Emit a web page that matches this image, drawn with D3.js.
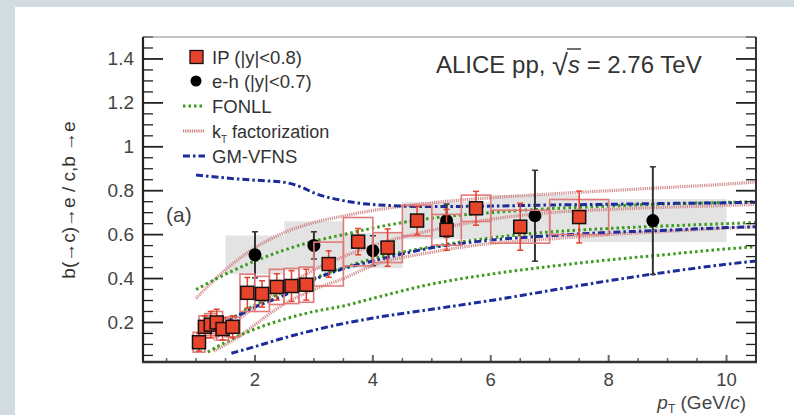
<!DOCTYPE html>
<html><head><meta charset="utf-8">
<script src="https://cdn.jsdelivr.net/npm/d3@7"></script>
<style>body{margin:0;padding:0;background:#fff}svg{display:block}text{font-family:"Liberation Sans",Arial,sans-serif}</style>
</head><body>
<svg id="c" width="794" height="415"></svg>
<script>
// ---------- data ----------
const xTicks = [2, 4, 6, 8, 10];
const yTicks = [0.2, 0.4, 0.6, 0.8, 1, 1.2, 1.4];
const yTickLabels = ["0.2", "0.4", "0.6", "0.8", "1", "1.2", "1.4"];

// IP method (|y|<0.8)
const ipX    = [1.05, 1.15, 1.25, 1.35, 1.45, 1.62, 1.87, 2.12, 2.37, 2.62, 2.87, 3.25, 3.75, 4.25, 4.75, 5.25, 5.75, 6.5, 7.5];
const ipY    = [0.11, 0.18, 0.19, 0.20, 0.17, 0.18, 0.335, 0.33, 0.362, 0.366, 0.372, 0.466, 0.568, 0.541, 0.664, 0.622, 0.72, 0.636, 0.68];
const ipStat = [0.04, 0.05, 0.06, 0.06, 0.05, 0.05, 0.07, 0.06, 0.06, 0.07, 0.07, 0.06, 0.06, 0.085, 0.064, 0.093, 0.077, 0.107, 0.118];
const ipSys  = [0.045, 0.05, 0.05, 0.05, 0.05, 0.045, 0.085, 0.08, 0.08, 0.08, 0.08, 0.10, 0.11, 0.068, 0.07, 0.07, 0.06, 0.075, 0.08];
const ipHalfW = [0.1, 0.1, 0.1, 0.1, 0.1, 0.125, 0.125, 0.125, 0.125, 0.125, 0.125, 0.25, 0.25, 0.25, 0.25, 0.25, 0.25, 0.5, 0.5];

// e-h correlation (|y|<0.7)
const ehX     = [2, 3, 4, 5.25, 6.75, 8.75];
const ehY     = [0.508, 0.551, 0.527, 0.664, 0.686, 0.664];
const ehStat  = [0.105, 0.062, 0.068, 0.075, 0.207, 0.245];
const ehSys   = [0.088, 0.11, 0.08, 0.085, 0.095, 0.098];
const ehHalfW = [0.5, 0.5, 0.5, 0.75, 0.75, 1.25];

// FONLL
const fonllUpX  = [1.0, 1.5, 2, 2.5, 3, 3.5, 4, 5, 6, 7, 8, 9, 10, 10.5];
const fonllUpY  = [0.35, 0.42, 0.48, 0.53, 0.57, 0.60, 0.63, 0.675, 0.70, 0.718, 0.73, 0.74, 0.747, 0.75];
const fonllCenX = [1.5, 2, 2.5, 3, 3.5, 4, 5, 6, 7, 8, 9, 10, 10.5];
const fonllCenY = [0.2, 0.28, 0.34, 0.40, 0.45, 0.49, 0.545, 0.585, 0.612, 0.628, 0.64, 0.65, 0.655];
const fonllLoX  = [1.2, 1.5, 2, 2.5, 3, 3.5, 4, 5, 6, 7, 8, 9, 10, 10.5];
const fonllLoY  = [0.065, 0.11, 0.17, 0.215, 0.25, 0.275, 0.31, 0.375, 0.42, 0.455, 0.485, 0.51, 0.535, 0.545];

// kT factorization
const ktUpX  = [1.0, 1.5, 2, 2.5, 3, 3.5, 4, 5, 6, 7, 8, 9, 10, 10.5];
const ktUpY  = [0.31, 0.44, 0.54, 0.61, 0.655, 0.685, 0.71, 0.745, 0.768, 0.785, 0.80, 0.815, 0.83, 0.84];
const ktCenX = [1.3, 1.75, 2, 2.5, 3, 3.5, 4, 5, 6, 7, 8, 9, 10, 10.5];
const ktCenY = [0.12, 0.22, 0.27, 0.36, 0.44, 0.50, 0.55, 0.62, 0.67, 0.70, 0.715, 0.725, 0.733, 0.738];
const ktLoX  = [1.3, 1.75, 2, 2.5, 3, 3.5, 4, 5, 6, 7, 8, 9, 10, 10.5];
const ktLoY  = [0.07, 0.14, 0.19, 0.285, 0.35, 0.40, 0.46, 0.52, 0.56, 0.58, 0.60, 0.615, 0.63, 0.636];

// GM-VFNS
const gmUpX  = [1.0, 1.5, 2, 2.5, 2.8, 3, 3.5, 4, 5, 6, 7, 8, 9, 10, 10.5];
const gmUpY  = [0.872, 0.858, 0.848, 0.838, 0.815, 0.79, 0.755, 0.737, 0.728, 0.73, 0.735, 0.738, 0.742, 0.745, 0.748];
const gmCenX = [1.5, 2, 2.5, 3, 3.5, 4, 5, 6, 7, 8, 9, 10, 10.5];
const gmCenY = [0.2, 0.27, 0.325, 0.395, 0.445, 0.48, 0.54, 0.575, 0.595, 0.61, 0.62, 0.632, 0.636];
const gmLoX  = [1.6, 2, 2.5, 3, 3.5, 4, 5, 6, 7, 8, 9, 10, 10.5];
const gmLoY  = [0.06, 0.09, 0.13, 0.165, 0.195, 0.22, 0.26, 0.30, 0.345, 0.39, 0.43, 0.465, 0.48];

// ---------- drawing ----------
const svg = d3.select("#c");
svg.append("rect").attr("width", 794).attr("height", 415).attr("fill", "#d0dce0");
svg.append("rect").attr("x", 15).attr("y", 7).attr("width", 779).attr("height", 408).attr("fill", "#fff");

const L = 143, R = 756, T = 37, B = 362;
const x = d3.scaleLinear().domain([0.1, 10.5]).range([L, R]);
const y = d3.scaleLinear().domain([0.02, 1.5]).range([B, T]);

svg.append("defs").append("clipPath").attr("id", "clip")
  .append("rect").attr("x", L).attr("y", T).attr("width", R - L).attr("height", B - T);
const plot = svg.append("g").attr("clip-path", "url(#clip)");

// e-h systematic grey boxes
plot.selectAll("rect.ehsys").data(ehX).join("rect")
  .attr("x", (d, i) => x(d - ehHalfW[i]))
  .attr("width", (d, i) => x(d + ehHalfW[i]) - x(d - ehHalfW[i]))
  .attr("y", (d, i) => y(ehY[i] + ehSys[i]))
  .attr("height", (d, i) => y(ehY[i] - ehSys[i]) - y(ehY[i] + ehSys[i]))
  .attr("fill", "#e3e3e3");

// theory curves
const line = d3.line().x(d => x(d[0])).y(d => y(d[1])).curve(d3.curveMonotoneX);
const zip = (a, b) => a.map((v, i) => [v, b[i]]);
const styles = {
  fonll: {stroke: "#3a9a1c", width: 3, dash: "2.5,3"},
  kt:    {stroke: "#cc7a7a", width: 3.2, dash: "1.2,1"},
  gm:    {stroke: "#1c2c9c", width: 3, dash: "7,3,2.5,3"}
};
const curves = [
  ["kt", ktUpX, ktUpY], ["kt", ktCenX, ktCenY], ["kt", ktLoX, ktLoY],
  ["fonll", fonllUpX, fonllUpY], ["fonll", fonllCenX, fonllCenY], ["fonll", fonllLoX, fonllLoY],
  ["gm", gmUpX, gmUpY], ["gm", gmCenX, gmCenY], ["gm", gmLoX, gmLoY]
];
curves.forEach(([k, xs, ys]) => {
  const s = styles[k];
  plot.append("path").attr("d", line(zip(xs, ys))).attr("fill", "none")
    .attr("stroke", s.stroke).attr("stroke-width", s.width).attr("stroke-dasharray", s.dash)
    .attr("opacity", k === "kt" ? 0.85 : 1);
});

// e-h stat error bars and markers
const gEh = plot.append("g");
ehX.forEach((d, i) => {
  const cx = x(d);
  gEh.append("line").attr("x1", cx).attr("x2", cx).attr("y1", y(ehY[i] + ehStat[i])).attr("y2", y(ehY[i] - ehStat[i]))
    .attr("stroke", "#333").attr("stroke-width", 2);
  [ehY[i] + ehStat[i], ehY[i] - ehStat[i]].forEach(v => {
    gEh.append("line").attr("x1", cx - 3).attr("x2", cx + 3).attr("y1", y(v)).attr("y2", y(v))
      .attr("stroke", "#333").attr("stroke-width", 1.5);
  });
});
gEh.selectAll("circle").data(ehX).join("circle")
  .attr("cx", d => x(d)).attr("cy", (d, i) => y(ehY[i])).attr("r", 6.5).attr("fill", "#000");

// IP systematic boxes
plot.selectAll("rect.ipsys").data(ipX).join("rect")
  .attr("x", (d, i) => x(d - ipHalfW[i]))
  .attr("width", (d, i) => x(d + ipHalfW[i]) - x(d - ipHalfW[i]))
  .attr("y", (d, i) => y(ipY[i] + ipSys[i]))
  .attr("height", (d, i) => y(ipY[i] - ipSys[i]) - y(ipY[i] + ipSys[i]))
  .attr("fill", "none").attr("stroke", "#e07a7a").attr("stroke-width", 1.6);

// IP stat error bars
const gIp = plot.append("g");
ipX.forEach((d, i) => {
  const cx = x(d);
  gIp.append("line").attr("x1", cx).attr("x2", cx).attr("y1", y(ipY[i] + ipStat[i])).attr("y2", y(ipY[i] - ipStat[i]))
    .attr("stroke", "#e8402a").attr("stroke-width", 1.5);
  [ipY[i] + ipStat[i], ipY[i] - ipStat[i]].forEach(v => {
    gIp.append("line").attr("x1", cx - 3).attr("x2", cx + 3).attr("y1", y(v)).attr("y2", y(v))
      .attr("stroke", "#e8402a").attr("stroke-width", 1.5);
  });
});
gIp.selectAll("rect").data(ipX).join("rect")
  .attr("x", d => x(d) - 6.5).attr("y", (d, i) => y(ipY[i]) - 6.5)
  .attr("width", 13).attr("height", 13)
  .attr("fill", "#e8432b").attr("stroke", "#111").attr("stroke-width", 1.5);

// ---------- axes / frame ----------
const ax = svg.append("g");
const yMinor = d3.range(0.05, 1.5001, 0.05).map(v => +v.toFixed(2));
yMinor.forEach(v => {
  const major = yTicks.some(t => Math.abs(t - v) < 1e-6);
  const len = major ? 20 : 10;
  ax.append("line").attr("x1", L).attr("x2", L + len).attr("y1", y(v)).attr("y2", y(v))
    .attr("stroke", "#222").attr("stroke-width", major ? 1.8 : 1.3);
  ax.append("line").attr("x1", R).attr("x2", R - len).attr("y1", y(v)).attr("y2", y(v))
    .attr("stroke", "#222").attr("stroke-width", major ? 1.8 : 1.3);
});
const xMinor = d3.range(0.5, 10.5001, 0.5).map(v => +v.toFixed(2));
xMinor.forEach(v => {
  const major = xTicks.some(t => Math.abs(t - v) < 1e-6);
  ax.append("line").attr("x1", x(v)).attr("x2", x(v)).attr("y1", B).attr("y2", B - (major ? 7 : 4))
    .attr("stroke", "#666").attr("stroke-width", major ? 2 : 1.5);
});
ax.append("line").attr("x1", L).attr("x2", R).attr("y1", T).attr("y2", T).attr("stroke", "#888").attr("stroke-width", 1.2);
ax.append("line").attr("x1", R).attr("x2", R).attr("y1", T).attr("y2", B).attr("stroke", "#333").attr("stroke-width", 2);
ax.append("line").attr("x1", L).attr("x2", L).attr("y1", T).attr("y2", B + 1).attr("stroke", "#222").attr("stroke-width", 2.2);
ax.append("line").attr("x1", L - 1).attr("x2", R + 1).attr("y1", B).attr("y2", B).attr("stroke", "#333").attr("stroke-width", 2.4);

// tick labels
ax.selectAll("text.yl").data(yTicks).join("text")
  .attr("x", L - 9).attr("y", d => y(d) + 6.5).attr("text-anchor", "end")
  .attr("font-size", 19).attr("fill", "#444").text((d, i) => yTickLabels[i]);
ax.selectAll("text.xl").data(xTicks).join("text")
  .attr("x", d => x(d)).attr("y", B + 24).attr("text-anchor", "middle")
  .attr("font-size", 18.5).attr("fill", "#444").text(d => d);

// axis titles
svg.append("text").attr("transform", "translate(75,200) rotate(-90)")
  .attr("text-anchor", "middle").attr("font-size", 19).attr("fill", "#333")
  .text("b(→c)→e / c,b →e");
const xt = svg.append("text").attr("x", 746).attr("y", 409).attr("text-anchor", "end")
  .attr("font-size", 19).attr("fill", "#444");
xt.append("tspan").attr("font-style", "italic").text("p");
xt.append("tspan").attr("font-size", 12).attr("dy", 4).text("T");
xt.append("tspan").attr("dy", -4).text(" (GeV/");
xt.append("tspan").attr("font-style", "italic").text("c");
xt.append("tspan").text(")");

// (a)
svg.append("text").attr("x", 166).attr("y", 222).attr("font-size", 21).attr("fill", "#444").text("(a)");

// ALICE title
const at = svg.append("text").attr("x", 436).attr("y", 73).attr("font-size", 24).attr("fill", "#333");
at.append("tspan").text("ALICE pp, ");
at.append("tspan").attr("font-size", 29).attr("dy", 2).text("√");
at.append("tspan").attr("font-style", "italic").attr("dy", -2).text("s");
at.append("tspan").text(" = 2.76 TeV");
{
  const n1 = "ALICE pp, ".length;
  const node = at.node();
  const sx = node.getStartPositionOfChar(n1 + 1);
  const ex = node.getEndPositionOfChar(n1 + 1);
  svg.append("line").attr("x1", sx.x - 1).attr("x2", ex.x + 1).attr("y1", 49).attr("y2", 49)
    .attr("stroke", "#333").attr("stroke-width", 1.4);
}

// legend
const lg = svg.append("g");
const lx = 183, lw = 22, tx = 212;
const rows = [57, 81, 106, 131, 156];
lg.append("rect").attr("x", 190).attr("y", rows[0] - 6.5).attr("width", 13).attr("height", 13)
  .attr("fill", "#e8432b").attr("stroke", "#111").attr("stroke-width", 1.3);
lg.append("circle").attr("cx", 196).attr("cy", rows[1]).attr("r", 5.5).attr("fill", "#000");
[["fonll", rows[2]], ["kt", rows[3]], ["gm", rows[4]]].forEach(([k, ry]) => {
  const s = styles[k];
  lg.append("line").attr("x1", lx).attr("x2", lx + lw).attr("y1", ry).attr("y2", ry)
    .attr("stroke", s.stroke).attr("stroke-width", s.width).attr("stroke-dasharray", s.dash);
});
const legTxt = (ry, fs) => lg.append("text").attr("x", tx).attr("y", ry + 6.5).attr("font-size", fs || 18.5).attr("fill", "#333");
legTxt(rows[0]).text("IP (|y|<0.8)");
legTxt(rows[1]).text("e-h (|y|<0.7)");
legTxt(rows[2]).text("FONLL");
const kt = legTxt(rows[3], 18);
kt.append("tspan").text("k");
kt.append("tspan").attr("font-size", 10).attr("dy", 5).text("T");
kt.append("tspan").attr("dy", -5).text(" factorization");
legTxt(rows[4]).text("GM-VFNS");
</script>
</body></html>
